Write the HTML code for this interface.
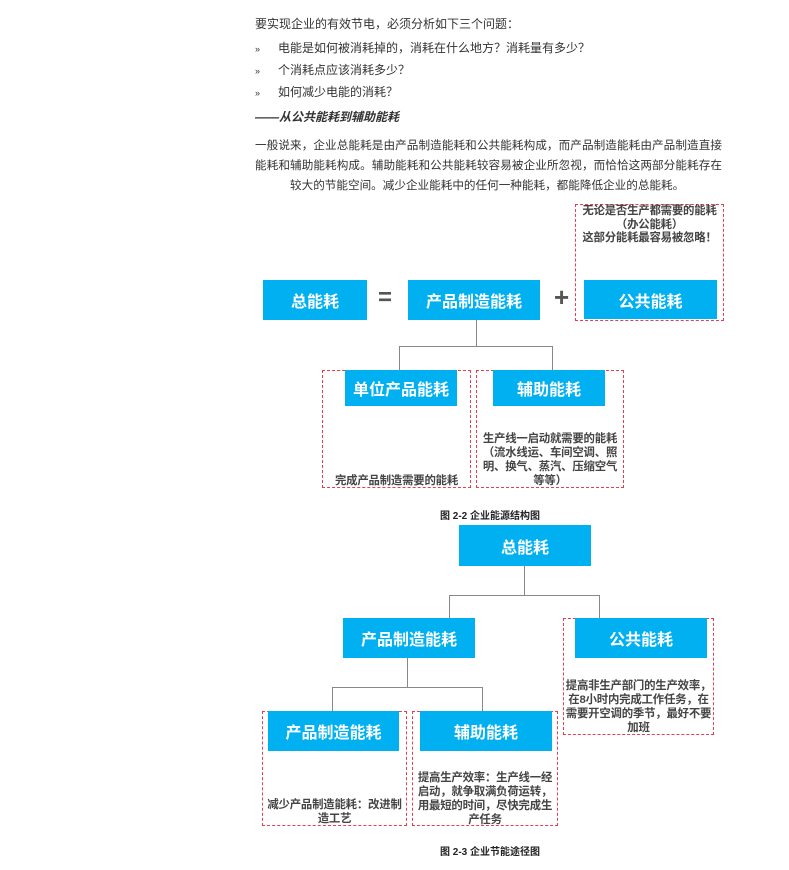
<!DOCTYPE html>
<html><head><meta charset="utf-8"><style>
body{margin:0;width:789px;height:870px;background:#fff;position:relative;overflow:hidden;font-family:"Liberation Sans","Noto Sans CJK SC",sans-serif;color:#333}
.a{position:absolute;white-space:nowrap}
.t{font-size:12px;line-height:14px}
.j{text-align:justify;text-align-last:justify;font-size:11.6px;line-height:16px;white-space:nowrap}
.b{position:absolute;background:#00b0f0;color:#fff;font-weight:bold;font-size:16px;display:flex;align-items:center;justify-content:center}
.d{position:absolute;border:1px dashed #e04050;box-sizing:border-box}
.l{position:absolute;background:#888}
.n{position:absolute;font-weight:bold;font-size:11.4px;line-height:14px;text-align:center;color:#444;letter-spacing:-0.2px}
.c{position:absolute;font-weight:bold;font-size:10px;color:#222;text-align:center;width:200px}
</style></head><body>
<div class="a t" style="left:255px;top:17px">要实现企业的有效节电，必须分析如下三个问题：</div>
<div class="a t" style="left:255px;top:42px;font-size:9px">»</div><div class="a t" style="left:278px;top:41px">电能是如何被消耗掉的，消耗在什么地方？消耗量有多少？</div>
<div class="a t" style="left:255px;top:64px;font-size:9px">»</div><div class="a t" style="left:278px;top:63px">个消耗点应该消耗多少？</div>
<div class="a t" style="left:255px;top:86px;font-size:9px">»</div><div class="a t" style="left:278px;top:85px">如何减少电能的消耗？</div>
<div class="a t" style="left:255px;top:110px;font-weight:bold;font-style:italic">——从公共能耗到辅助能耗</div>
<div class="a j" style="left:255px;top:138px;width:467px">一般说来，企业总能耗是由产品制造能耗和公共能耗构成，而产品制造能耗由产品制造直接</div>
<div class="a j" style="left:255px;top:158px;width:467px">能耗和辅助能耗构成。辅助能耗和公共能耗较容易被企业所忽视，而恰恰这两部分能耗存在</div>
<div class="a j" style="left:290px;top:178px;width:390px">较大的节能空间。减少企业能耗中的任何一种能耗，都能降低企业的总能耗。</div>

<div class="d" style="left:575px;top:204px;width:149px;height:117px"></div>
<div class="n" style="left:575px;top:205px;width:149px;line-height:13.5px">无论是否生产都需要的能耗<br>（办公能耗）<br>这部分能耗最容易被忽略！</div>
<div class="b" style="left:263px;top:280px;width:104px;height:40px">总能耗</div>
<div class="a" style="left:378px;top:284px;font-size:24px;font-weight:bold;color:#555">=</div>
<div class="b" style="left:408px;top:280px;width:132px;height:40px">产品制造能耗</div>
<div class="a" style="left:554px;top:282px;font-size:26px;font-weight:bold;color:#555">+</div>
<div class="b" style="left:584px;top:280px;width:133px;height:39px">公共能耗</div>
<div class="l" style="left:476px;top:320px;width:1px;height:26px"></div>
<div class="l" style="left:399px;top:346px;width:153px;height:1px"></div>
<div class="l" style="left:399px;top:346px;width:1px;height:24px"></div>
<div class="l" style="left:552px;top:346px;width:1px;height:24px"></div>
<div class="d" style="left:322px;top:370px;width:149px;height:118px"></div>
<div class="d" style="left:476px;top:370px;width:148px;height:118px"></div>
<div class="b" style="left:345px;top:370px;width:112px;height:36px">单位产品能耗</div>
<div class="b" style="left:493px;top:370px;width:112px;height:36px">辅助能耗</div>
<div class="n" style="left:322px;top:474px;width:149px">完成产品制造需要的能耗</div>
<div class="n" style="left:478px;top:432px;width:144px">生产线一启动就需要的能耗（流水线运、车间空调、照明、换气、蒸汽、压缩空气等等）</div>
<div class="c" style="left:390px;top:507px">图 2-2 企业能源结构图</div>

<div class="b" style="left:459px;top:525px;width:132px;height:41px">总能耗</div>
<div class="l" style="left:524px;top:566px;width:1px;height:29px"></div>
<div class="l" style="left:449px;top:595px;width:150px;height:1px"></div>
<div class="l" style="left:449px;top:595px;width:1px;height:23px"></div>
<div class="l" style="left:599px;top:595px;width:1px;height:23px"></div>
<div class="d" style="left:563px;top:618px;width:151px;height:117px"></div>
<div class="b" style="left:343px;top:618px;width:132px;height:40px">产品制造能耗</div>
<div class="b" style="left:575px;top:618px;width:132px;height:40px">公共能耗</div>
<div class="n" style="left:564px;top:679px;width:149px">提高非生产部门的生产效率，在8小时内完成工作任务，在需要开空调的季节，最好不要加班</div>
<div class="l" style="left:407px;top:658px;width:1px;height:29px"></div>
<div class="l" style="left:332px;top:687px;width:150px;height:1px"></div>
<div class="l" style="left:332px;top:687px;width:1px;height:24px"></div>
<div class="l" style="left:482px;top:687px;width:1px;height:24px"></div>
<div class="d" style="left:262px;top:711px;width:145px;height:115px"></div>
<div class="d" style="left:412px;top:711px;width:146px;height:115px"></div>
<div class="b" style="left:268px;top:711px;width:131px;height:40px">产品制造能耗</div>
<div class="b" style="left:420px;top:711px;width:132px;height:40px">辅助能耗</div>
<div class="n" style="left:263px;top:798px;width:143px">减少产品制造能耗：改进制造工艺</div>
<div class="n" style="left:414px;top:771px;width:142px">提高生产效率：生产线一经启动，就争取满负荷运转，用最短的时间，尽快完成生产任务</div>
<div class="c" style="left:390px;top:843px">图 2-3 企业节能途径图</div>
</body></html>
